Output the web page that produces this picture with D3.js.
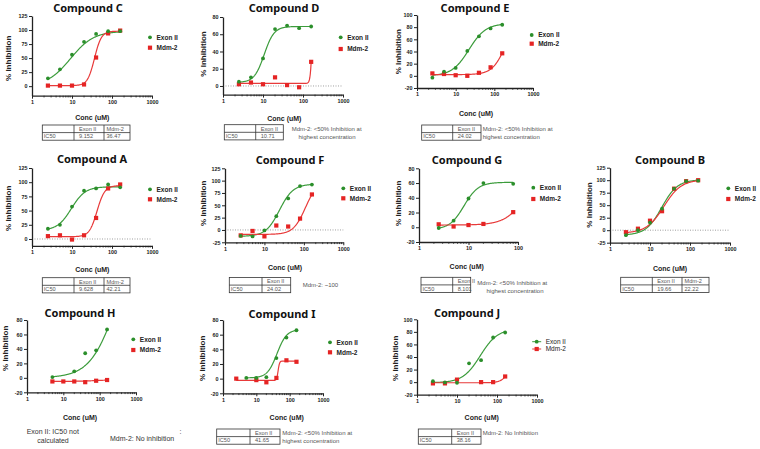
<!DOCTYPE html>
<html><head><meta charset="utf-8">
<script src="https://cdn.jsdelivr.net/npm/d3@7/dist/d3.min.js"></script>
<style>
body{margin:0;background:#fff}
svg{display:block}
.tick text{font-family:"Liberation Sans",Arial,sans-serif;font-weight:bold;font-size:5.4px;fill:#222}
</style>
</head><body>
<svg id="chart" width="760" height="449"></svg>
<script>
// ---------------- DATA ----------------
const compounds = ["C","D","E","A","F","G","B","H","I","J"];
const titles = ["Compound C","Compound D","Compound E","Compound A","Compound F","Compound G","Compound B","Compound H","Compound I","Compound J"];
const seriesNames = ["Exon II","Mdm-2"];

const conc7 = [2.5, 5, 10, 20, 40, 80, 160];
const concG = [2.5, 5, 10, 20, 80];
const concExonH = [5, 20, 40, 80, 160];
const concMdmH = [5, 10, 20, 40, 80, 160];
const concExonI = [5, 10, 20, 40, 80, 160];
const concMdmI = [2.5, 10, 20, 40, 80, 160];
const concMdmJ = [2.5, 5, 10, 40, 80, 160];

const exonC = [14, 30, 56, 79, 93, 98, 98];
const mdmC  = [1, 1, 1, 3, 51, 94, 99];
const exonD = [5, 10, 32, 66, 70, 67, 69];
const mdmD  = [2, 4, 2, 10, 1, -1.5, 28];
const exonE = [-3, 7, 13, 41, 65, 78, 84];
const mdmE  = [4, 3, 1, 0, 5, 14, 37];
const exonA = [18, 25, 57, 85, 89, 96, 91];
const mdmA  = [5, 6.5, -1, 6.5, 37, 89, 96];
const exonF = [-12, -13, -1, 28, 64, 89, 92];
const mdmF  = [-11, -2, -13, 9, 7, 23, 72];
const exonG = [-1, 9, 39, 60, 59];
const mdmG  = [4, 1, 3, 4.5, 20.5];
const exonB = [-10, 0, 15, 43, 83, 98, 99];
const mdmB  = [-4, 3, 19, 38, 83, 98, 100];
const exonH = [1, 9, 34, 38, 67];
const mdmH  = [-5, -5, -5, -6, -4, -3];
const exonI = [1, 1, 2, 28, 56, 66];
const mdmI  = [0, -2, -5, 1, 25, 23];
const exonJ = [1.5, -0.5, -1, 30, 35, 71, 79];
const mdmJ  = [-2, -2, 4, 0, 0, 9];

// fitted 4-parameter logistic: [bottom, top, IC50, hill]
const fitExonC = [0, 98, 9.152, 1.5],   fitMdmC = [1, 98, 36.47, 5];
const fitExonD = [4, 69, 10.71, 3.5],   fitMdmD = [3, 100, 168.7, 20];
const fitExonE = [0, 86, 22, 2],        fitMdmE = [2, 100, 200, 2.5];
const fitExonA = [15, 92, 9.628, 2.5],  fitMdmA = [4, 94, 42.21, 4.5];
const fitExonF = [-13, 93, 24.02, 2.5], fitMdmF = [-9, 100, 110, 2.8];
const fitExonG = [-3, 61, 8.101, 3],    fitMdmG = [3, 100, 170, 2];
const fitExonB = [-10, 101, 19.66, 2.2],fitMdmB = [-6, 101, 22.22, 2.0];
const fitExonH = [0, 200, 289, 1.2],    fitMdmH = [-5, -2.5, 80, 1.5];
const fitExonI = [1, 67, 41.65, 3],     fitMdmI = [-2.5, 24, 45, 20];
const fitExonJ = [-1, 85, 38.16, 2],    fitMdmJ = [-1, 100, 278, 4];

// IC50 tables
const tableHeaders = {C:["Exon II","Mdm-2"], D:["Exon II"], E:["Exon II"], A:["Exon II","Mdm-2"], F:["Exon II"], G:["Exon II"], B:["Exon II","Mdm-2"], I:["Exon II"], J:["Exon II"]};
const tableValues  = {C:["9.152","36.47"], D:["10.71"], E:["24.02"], A:["9.628","42.21"], F:["24.02"], G:["8.101"], B:["19.66","22.22"], I:["41.65"], J:["38.16"]};
const notes = {
  D:["Mdm-2: <50% Inhibition at","highest concentration"],
  E:["Mdm-2: <50% Inhibition at","highest concentration"],
  F:["Mdm-2: ~100"],
  G:["Mdm-2: <50% Inhibition at","highest concentration"],
  I:["Mdm-2: <50% Inhibition at","highest concentration"],
  J:["Mdm-2: No Inhibition"]
};
const hNotes = ["Exon II: IC50 not","calculated","Mdm-2: No inhibition",":"];
const yTicksC = [0,25,50,75,100,125], yTicksD=[0,20,40,60,80], yTicksE=[-20,0,20,40,60,80,100];
const yTicksF = [-25,0,25,50,75,100,125], yTicksG=[-20,0,20,40,60,80];

// ---------------- LAYOUT (positions only) ----------------
const layout = {
 C:{x0:32,x1:152,xMax:1000,yT:16,yB:95.7,yDom:[-17,125],ticks:yTicksC,title:[88,11.5],leg:[150,37.3,47.7],conc:[92.3,119.5],ylab:[8.5,58.3],table:{x:42.3,y:125,cols:[74,104,130]},zero:false},
 D:{x0:223,x1:343,xMax:1000,yT:17,yB:94.6,yDom:[-10,80],ticks:yTicksD,title:[284,11.5],leg:[340.7,37.3,49],conc:[284.3,121],ylab:[203.5,54],table:{x:224.3,y:124.7,cols:[255.7,283.3]},note:[291.7,130.5,"mixed"],zero:true},
 E:{x0:417,x1:533,xMax:1000,yT:15,yB:88,yDom:[-20,100],ticks:yTicksE,title:[475,11.5],leg:[531.7,35,43.7],conc:[476,115.5],ylab:[398.5,51.7],table:{x:421.7,y:125,cols:[452.7,481]},note:[482.7,130.5,"left"],zero:false},
 A:{x0:32,x1:152,xMax:1000,yT:168,yB:245.8,yDom:[-12,125],ticks:yTicksC,title:[92,163],leg:[150,189.3,199.3],conc:[92.3,271.5],ylab:[8.5,208.3],table:{x:42.3,y:277.7,cols:[74,104,130]},zero:true},
 F:{x0:225,x1:343.3,xMax:1000,yT:168.3,yB:242.3,yDom:[-25,125],ticks:yTicksF,title:[290,163.5],leg:[343.3,188.3,198.3],conc:[285,270],ylab:[202.7,203.3],table:{x:229.3,y:277.5,cols:[262,290.7]},note:[302.7,286.5,"left"],zero:true},
 G:{x0:419,x1:518,xMax:100,yT:168.3,yB:242,yDom:[-20,80],ticks:yTicksG,title:[467,163.5],leg:[533.3,187.7,199],conc:[466.7,269],ylab:[398.5,203.3],table:{x:421,y:277.3,cols:[452.7,470.7]},note:[477.3,284.5,"mixedG"],zero:false},
 B:{x0:610,x1:730,xMax:1000,yT:167.7,yB:242.7,yDom:[-25,125],ticks:yTicksF,title:[670,163.5],leg:[728.3,188.3,199],conc:[670,271.3],ylab:[589.5,205],table:{x:620.7,y:277.3,cols:[652.3,682,709]},zero:true},
 H:{x0:27,x1:136,xMax:1000,yT:320,yB:392.3,yDom:[-20,80],ticks:yTicksG,title:[80,317],leg:[133.3,339.3,350],conc:[80,419.5],ylab:[5.5,348.3],zero:false},
 I:{x0:223,x1:323,xMax:1000,yT:320,yB:393.3,yDom:[-20,80],ticks:yTicksG,title:[282,317.5],leg:[330,342.3,352.3],conc:[286.7,419.5],ylab:[201.7,358.3],table:{x:216.7,y:429,cols:[250,280]},note:[282.3,435,"left"],zero:false},
 J:{x0:417,x1:537,xMax:1000,yT:319.3,yB:394.7,yDom:[-20,100],ticks:yTicksE,title:[467,316.5],leg:[536.7,341.7,349],conc:[481.7,419.5],ylab:[395,358.3],table:{x:418.3,y:429,cols:[451.7,481]},note:[482.7,435,"left"],zero:false,legLine:true}
};
const hNotePos = [[26.7,434,"start"],[53,442.5,"middle"],[110,440.5,"start"],[179.5,433.5,"start"]];

const seriesByPanel = {
 C:[[conc7,exonC,fitExonC],[conc7,mdmC,fitMdmC]],
 D:[[conc7,exonD,fitExonD],[conc7,mdmD,fitMdmD]],
 E:[[conc7,exonE,fitExonE],[conc7,mdmE,fitMdmE]],
 A:[[conc7,exonA,fitExonA],[conc7,mdmA,fitMdmA]],
 F:[[conc7,exonF,fitExonF],[conc7,mdmF,fitMdmF]],
 G:[[concG,exonG,fitExonG],[concG,mdmG,fitMdmG]],
 B:[[conc7,exonB,fitExonB],[conc7,mdmB,fitMdmB]],
 H:[[concExonH,exonH,fitExonH],[concMdmH,mdmH,fitMdmH]],
 I:[[concExonI,exonI,fitExonI],[concMdmI,mdmI,fitMdmI]],
 J:[[conc7,exonJ,fitExonJ],[concMdmJ,mdmJ,fitMdmJ]]
};

// ---------------- DRAW ----------------
const svg = d3.select("#chart");
const GREEN = "#2b8f2b", GREEN_LINE = "#3c9c3c", RED = "#e52424", RED_LINE = "#e83a3a";
const SANS = '"Liberation Sans",Arial,sans-serif';

function logistic(p, x){ return p[0] + (p[1]-p[0])/(1+Math.pow(p[2]/x, p[3])); }

compounds.forEach((k, idx) => {
  const L = layout[k];
  const g = svg.append("g");
  const x = d3.scaleLog().domain([1, L.xMax]).range([L.x0, L.x1]);
  const y = d3.scaleLinear().domain(L.yDom).range([L.yB, L.yT]);

  g.append("text").attr("x", L.title[0]).attr("y", L.title[1]).attr("text-anchor","middle")
    .style("font-family",'"Noto Sans",sans-serif').style("font-weight","bold").style("font-size","11px").style("fill","#111")
    .text(titles[idx]);

  if (L.zero) {
    g.append("line").attr("x1", L.x0).attr("x2", L.x1).attr("y1", y(0)).attr("y2", y(0))
      .attr("stroke","#888").attr("stroke-width",0.8).attr("stroke-dasharray","1,1.5");
  }

  const ya = g.append("g").attr("transform",`translate(${L.x0},0)`)
    .call(d3.axisLeft(y).tickValues(L.ticks).tickSize(3).tickSizeOuter(0).tickPadding(1.5).tickFormat(d => String(d)));
  const majors = d3.range(0, Math.round(Math.log10(L.xMax))+1).map(e => Math.pow(10,e));
  const xa = g.append("g").attr("transform",`translate(0,${L.yB})`)
    .call(d3.axisBottom(x).tickValues(majors).tickSize(3).tickSizeOuter(0).tickPadding(1.5).tickFormat(d => String(d)));
  const minors = [];
  majors.slice(0,-1).forEach(m => { for (let i=2;i<10;i++) minors.push(m*i); });
  xa.selectAll(".minor").data(minors).enter().append("line").attr("class","minor")
    .attr("x1", d=>x(d)).attr("x2", d=>x(d)).attr("y1",0).attr("y2",1.8).attr("stroke","#222").attr("stroke-width",0.8);
  [ya, xa].forEach(a => {
    a.select(".domain").attr("stroke","#222").attr("stroke-width",1.3);
    a.selectAll(".tick line").attr("stroke","#222").attr("stroke-width",1);
  });

  g.append("text").attr("transform",`translate(${L.ylab[0]},${L.ylab[1]}) rotate(-90)`).attr("text-anchor","middle")
    .attr("dy","0.35em").style("font-family",SANS).style("font-weight","bold").style("font-size","8px").style("fill","#222")
    .text("% Inhibition");
  g.append("text").attr("x", L.conc[0]).attr("y", L.conc[1]).attr("text-anchor","middle")
    .style("font-family",SANS).style("font-weight","bold").style("font-size","7px").style("fill","#222")
    .text("Conc (uM)");

  const ser = seriesByPanel[k];
  const colorsLine = [GREEN_LINE, RED_LINE];
  const line = d3.line().x(d=>x(d[0])).y(d=>y(d[1]));
  ser.forEach((s, si) => {
    const lo = d3.min(s[0]), hi = d3.max(s[0]);
    const pts = d3.range(0, 161).map(i => { const c = Math.pow(10, Math.log10(lo) + (Math.log10(hi)-Math.log10(lo))*i/160); return [c, logistic(s[2], c)]; });
    g.append("path").attr("d", line(pts)).attr("fill","none").attr("stroke", colorsLine[si]).attr("stroke-width",1.2);
  });
  const sq = 4.2;
  g.selectAll(".sq").data(ser[1][0].map((c,i)=>[c, ser[1][1][i]])).enter().append("rect")
    .attr("x", d=>x(d[0])-sq/2).attr("y", d=>y(d[1])-sq/2).attr("width",sq).attr("height",sq).attr("fill",RED);
  g.selectAll(".ci").data(ser[0][0].map((c,i)=>[c, ser[0][1][i]])).enter().append("circle")
    .attr("cx", d=>x(d[0])).attr("cy", d=>y(d[1])).attr("r",1.9).attr("fill",GREEN);

  const lx = L.leg[0];
  [[L.leg[1], GREEN, "c"], [L.leg[2], RED, "s"]].forEach((e, i) => {
    if (L.legLine) {
      g.append("line").attr("x1", lx-4.5).attr("x2", lx+4.5).attr("y1", e[0]).attr("y2", e[0]).attr("stroke", i===0?GREEN_LINE:RED_LINE).attr("stroke-width",1);
    }
    if (e[2]==="c") g.append("circle").attr("cx",lx).attr("cy",e[0]).attr("r",1.9).attr("fill",e[1]);
    else g.append("rect").attr("x",lx-2.1).attr("y",e[0]-2.1).attr("width",4.2).attr("height",4.2).attr("fill",e[1]);
    g.append("text").attr("x", lx + (L.legLine ? 9 : 6.5)).attr("y", e[0]).attr("dy","0.35em")
      .style("font-family",SANS).style("font-weight", L.legLine ? "normal" : "bold").style("font-size","6.5px").style("fill","#222")
      .text(seriesNames[i]);
  });

  if (L.table) {
    const T = L.table, rowH = 7.6;
    const edges = [T.x].concat(T.cols);
    const x2 = edges[edges.length-1];
    const tg = g.append("g");
    tg.append("rect").attr("x",T.x).attr("y",T.y).attr("width",x2-T.x).attr("height",rowH*2).attr("fill","none").attr("stroke","#333").attr("stroke-width",0.8);
    tg.append("line").attr("x1",T.x).attr("x2",x2).attr("y1",T.y+rowH).attr("y2",T.y+rowH).attr("stroke","#333").attr("stroke-width",0.8);
    edges.slice(1,-1).forEach(ex => tg.append("line").attr("x1",ex).attr("x2",ex).attr("y1",T.y).attr("y2",T.y+rowH*2).attr("stroke","#333").attr("stroke-width",0.8));
    const pads = [1.5, 5, 2.5];
    const row1 = [""].concat(tableHeaders[k]);
    const row2 = ["IC50"].concat(tableValues[k]);
    [row1,row2].forEach((row, ri) => row.forEach((txt, ci) => {
      tg.append("text").attr("x", edges[ci] + pads[ci]).attr("y", T.y + rowH*ri + rowH/2).attr("dy","0.36em")
        .style("font-family",SANS).style("font-size","5.6px").style("fill","#555").text(txt);
    }));
  }
  if (notes[k]) {
    const N = L.note, lines = notes[k];
    lines.forEach((t, i) => {
      let xx = N[0], anchor = "start";
      if (i === 1 && N[2] === "mixed") { xx = 327; anchor = "middle"; }
      if (i === 1 && N[2] === "mixedG") { xx = 515; anchor = "middle"; }
      g.append("text").attr("x", xx).attr("y", N[1] + i*8).attr("text-anchor", anchor)
        .style("font-family",SANS).style("font-size","6px").style("fill","#555").text(t);
    });
  }
});

// Compound H free text
hNotes.forEach((t, i) => {
  svg.append("text").attr("x", hNotePos[i][0]).attr("y", hNotePos[i][1]).attr("text-anchor", hNotePos[i][2])
    .style("font-family",SANS).style("font-size","7px").style("fill","#333").text(t);
});
</script>
</body></html>
